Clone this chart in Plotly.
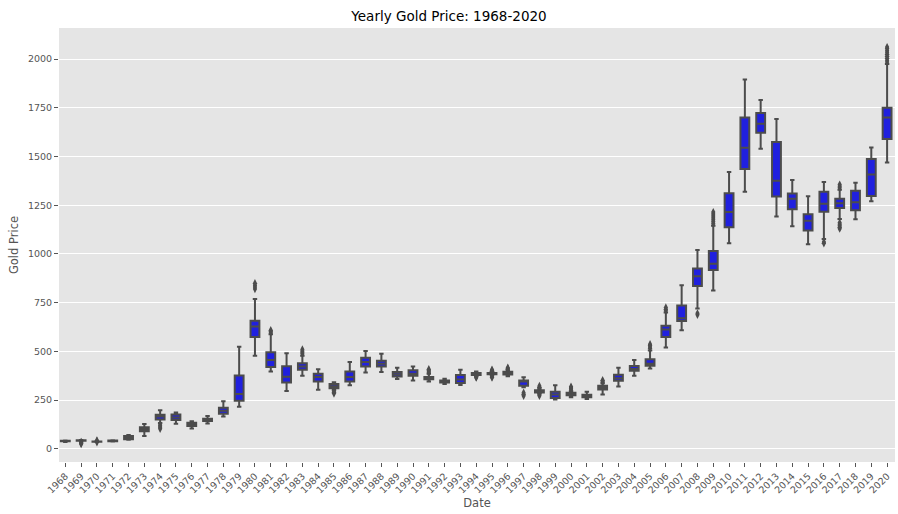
import plotly.graph_objects as go

# Yearly gold price distribution
years = [str(y) for y in range(1968, 2021)]

lower = [35, 38, 34.5, 37.5, 46, 65, 132, 128, 104, 130, 166, 216, 477, 397, 297, 375, 303,
         300, 326, 392, 394, 358, 350, 345, 332, 327, 375, 378, 372, 316, 285, 253, 264, 256,
         278, 320, 375, 412, 520, 608, 720, 812, 1055, 1319, 1540, 1192, 1142, 1050, 1077,
         1180, 1178, 1270, 1470]
q1 = [38.5, 40.5, 35.5, 39, 49, 90, 150, 147, 117, 143, 180, 246, 574, 420, 340, 405, 345,
      311, 345, 422, 422, 371, 375, 357, 340, 338, 379, 382, 381, 324, 289, 261, 275, 264,
      304, 349, 400, 426, 574, 656, 836, 918, 1137, 1436, 1622, 1295, 1230, 1120, 1217,
      1236, 1224, 1297, 1590]
median = [40, 42, 36.5, 40.5, 59, 100, 165, 160, 125, 148, 195, 281, 627, 456, 370, 422, 368,
          321, 368, 445, 437, 382, 385, 362, 344, 355, 384, 385, 387, 345, 295, 279, 280, 270,
          314, 362, 410, 437, 612, 670, 886, 950, 1215, 1545, 1668, 1376, 1283, 1170, 1258,
          1260, 1265, 1408, 1700]
q3 = [41.5, 43.5, 37.5, 42.5, 66, 110, 175, 176, 133, 154, 210, 376, 657, 496, 424, 439, 385,
      332, 396, 467, 452, 394, 403, 368, 350, 378, 389, 389, 395, 351, 300, 292, 287, 277,
      324, 380, 425, 460, 632, 735, 925, 1015, 1312, 1700, 1724, 1575, 1310, 1204, 1320,
      1284, 1325, 1488, 1750]
upper = [43, 45, 39, 44, 70, 127, 198, 186, 141, 168, 244, 524, 769, 588, 490, 478, 408,
         342, 445, 502, 488, 416, 422, 385, 360, 406, 397, 394, 402, 367, 310, 326, 295, 292,
         336, 416, 455, 505, 700, 840, 1020, 1145, 1421, 1895, 1790, 1693, 1380, 1296, 1370,
         1330, 1365, 1546, 1975]

# Outliers (fliers)
flier_years = (["1969"] * 4 + ["1970"] * 3 + ["1974"] * 4 + ["1980"] * 4 + ["1981"] * 3
               + ["1983"] * 4 + ["1985"] * 3 + ["1991"] * 4 + ["1994"] * 3 + ["1995"] * 6
               + ["1996"] * 3 + ["1997"] * 3 + ["1998"] * 5 + ["2000"] * 4 + ["2002"] * 3
               + ["2005"] * 4 + ["2006"] * 3 + ["2008"] * 2 + ["2009"] * 7 + ["2016"] * 2
               + ["2017"] * 8 + ["2020"] * 9)
flier_values = [35, 32, 28, 24,
                33, 40, 42,
                103, 110, 117, 122,
                820, 830, 840, 850,
                596, 602, 608,
                488, 495, 502, 510,
                284, 290, 296,
                390, 396, 402, 408,
                365, 368, 371,
                366, 370, 374, 398, 402, 406,
                408, 412, 416,
                272, 280, 288,
                316, 322, 272, 277, 282,
                302, 308, 314, 318,
                342, 347, 352,
                515, 522, 530, 537,
                708, 716, 725,
                688, 695,
                1155, 1165, 1175, 1185, 1195, 1205, 1215,
                1055, 1062,
                1340, 1348, 1356, 1130, 1137, 1145, 1152, 1160,
                1985, 1995, 2005, 2015, 2025, 2035, 2045, 2055, 2062]

y_ticks = [0, 250, 500, 750, 1000, 1250, 1500, 1750, 2000]

edge = "#4c4c4c"
text_col = "#555555"

fig = go.Figure()

fig.add_trace(go.Box(
    x=years,
    q1=q1,
    median=median,
    q3=q3,
    lowerfence=lower,
    upperfence=upper,
    fillcolor="#2020df",
    line=dict(color=edge, width=2),
    whiskerwidth=0.5,
    boxpoints=False,
    hoverinfo="skip",
))

fig.add_trace(go.Scatter(
    x=flier_years,
    y=flier_values,
    mode="markers",
    marker=dict(symbol="diamond-tall", size=6, color=edge),
    hoverinfo="skip",
))

fig.update_layout(
    width=898,
    height=514,
    margin=dict(l=59, r=3, t=28, b=52),
    paper_bgcolor="white",
    plot_bgcolor="#e5e5e5",
    showlegend=False,
    boxgap=0.2,
    font=dict(family="DejaVu Sans", color=text_col, size=9.5),
    title=dict(text="Yearly Gold Price: 1968-2020", x=0.5, xanchor="center",
               y=0.968, yanchor="middle",
               font=dict(size=13.5, color="black")),
)

fig.update_xaxes(
    type="category",
    categoryorder="array",
    categoryarray=years,
    range=[-0.4, 52.5],
    showgrid=False,
    zeroline=False,
    ticks="outside",
    ticklen=4,
    tickcolor=text_col,
    tickangle=-45,
    title=dict(text="Date", font=dict(size=11.5, color=text_col), standoff=4),
    automargin=False,
)

fig.update_yaxes(
    range=[-68, 2160],
    tickvals=y_ticks,
    showgrid=True,
    gridcolor="white",
    gridwidth=1,
    zeroline=False,
    ticks="outside",
    ticklen=4,
    tickcolor=text_col,
    title=dict(text="Gold Price", font=dict(size=11.5, color=text_col), standoff=6),
    automargin=False,
)

# drop the default page margin so the figure sits at the window's corner
fig.write_html("out.html", config={"displayModeBar": False},
               post_script="document.body.style.margin='0px';")
